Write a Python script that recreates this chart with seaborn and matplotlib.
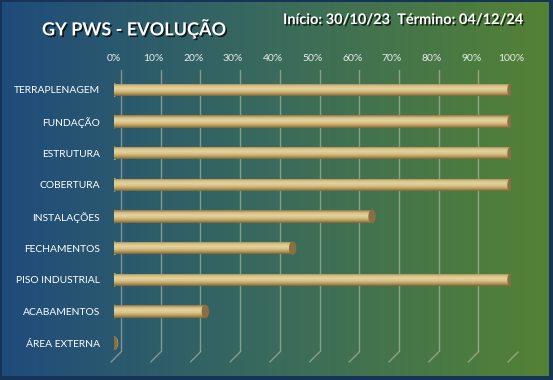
import numpy as np
import pandas as pd
import seaborn as sns
import matplotlib.pyplot as plt
import matplotlib.colors as mcolors
import matplotlib.patheffects as pe
from matplotlib.patches import Ellipse
from matplotlib.transforms import ScaledTranslation

etapas = ["TERRAPLENAGEM", "FUNDAÇÃO", "ESTRUTURA", "COBERTURA", "INSTALAÇÕES",
          "FECHAMENTOS", "PISO INDUSTRIAL", "ACABAMENTOS", "ÁREA EXTERNA"]
evolucao = [1.00, 1.00, 1.00, 1.00, 0.65, 0.45, 1.00, 0.23, 0.00]
ticks = [0, 0.1, 0.2, 0.3, 0.4, 0.5, 0.6, 0.7, 0.8, 0.9, 1.0]
tick_labels = ["0%", "10%", "20%", "30%", "40%", "50%", "60%", "70%", "80%", "90%", "100%"]
titulo = "GY PWS - EVOLUÇÃO"
datas = "Início: 30/10/23  Término: 04/12/24"

df = pd.DataFrame({"etapa": etapas, "pct": evolucao})

sns.set_theme(style="white")
plt.rcParams["font.family"] = ["Lato", "DejaVu Sans"]

W, H = 553, 380
fig = plt.figure(figsize=(W / 100, H / 100), dpi=100)
fig.patch.set_facecolor("#163457")

# fundo em degrade azul -> verde
bg = fig.add_axes([2 / W, 4 / H, 547 / W, 374 / H])
cmap_bg = mcolors.LinearSegmentedColormap.from_list("bg", ["#1f4b7b", "#3a6b5c", "#548235"])
bg.imshow(np.linspace(0, 1, 256)[None, :], cmap=cmap_bg, aspect="auto", extent=(0, 1, 0, 1))
bg.set_axis_off()

ax = fig.add_axes([114 / W, 1 - 352 / H, 397 / W, 282 / H])
ax.patch.set_alpha(0)
bar_h = 0.39
sns.barplot(data=df, x="pct", y="etapa", orient="h", color="#cbb477", width=bar_h,
            ax=ax, zorder=3, linewidth=0)

px = 1 / 397  # um pixel em unidades de x
ylo, yhi = 8.28, -0.63

# grade de fundo (parede) deslocada como no 3D
off = 7 * px
bt = ax.get_xaxis_transform()
for t in ticks:
    ax.plot([t + off, t + off], [0, 1], transform=bt, color="#c9c9b4", alpha=0.55, lw=1, zorder=1)
    ax.plot([t + off, t - 3 * px], [0, -10 / 282], transform=bt, color="#c9c9b4",
            alpha=0.55, lw=1, zorder=1, clip_on=False)

# sombreamento cilindrico
cyl = mcolors.LinearSegmentedColormap.from_list(
    "cyl", ["#8d7646", "#d4bf86", "#e4d29c", "#d8c388", "#b89c5f", "#7d6536"])
grad = np.linspace(0, 1, 64)[:, None]
for p in list(ax.patches):
    x0, y0 = p.get_x(), p.get_y()
    w, h = p.get_width(), p.get_height()
    yc = y0 + h / 2
    ax.add_patch(Ellipse((x0, yc), 7 * px, h, color="#c4ad70", zorder=2))
    if w > 0:
        im = ax.imshow(grad, cmap=cyl, aspect="auto", extent=(x0, x0 + w, y0 + h, y0),
                       origin="upper", zorder=4)
        im.set_clip_path(p)
    ax.add_patch(Ellipse((x0 + w, yc), 6 * px, h, color="#8a6f40", zorder=5))

ax.set_xlim(0, 1)
ax.set_ylim(ylo, yhi)
ax.xaxis.tick_top()
ax.set_xticks(ticks)
ax.set_xticklabels(tick_labels, fontsize=7.5, color="#e8ecec")
for lab in ax.get_xticklabels():
    lab.set_transform(lab.get_transform() + ScaledTranslation(7 / 100, 0, fig.dpi_scale_trans))
ax.tick_params(axis="x", length=0, pad=5)
ax.tick_params(axis="y", length=0, pad=10, labelsize=7.4, labelcolor="white")
ax.set_xlabel("")
ax.set_ylabel("")
for s in ax.spines.values():
    s.set_visible(False)

sombra = [pe.withSimplePatchShadow(offset=(1.2, -1.2), shadow_rgbFace="black", alpha=0.7)]
fig.text(42 / W, 1 - 28 / H, titulo, fontsize=13, fontweight="bold", color="white",
         va="center", ha="left", path_effects=sombra)
fig.text(283 / W, 1 - 20 / H, datas, fontsize=10.5, fontweight="bold", color="white",
         va="center", ha="left", path_effects=sombra)

fig.savefig("out.png", dpi=100, facecolor=fig.get_facecolor())
